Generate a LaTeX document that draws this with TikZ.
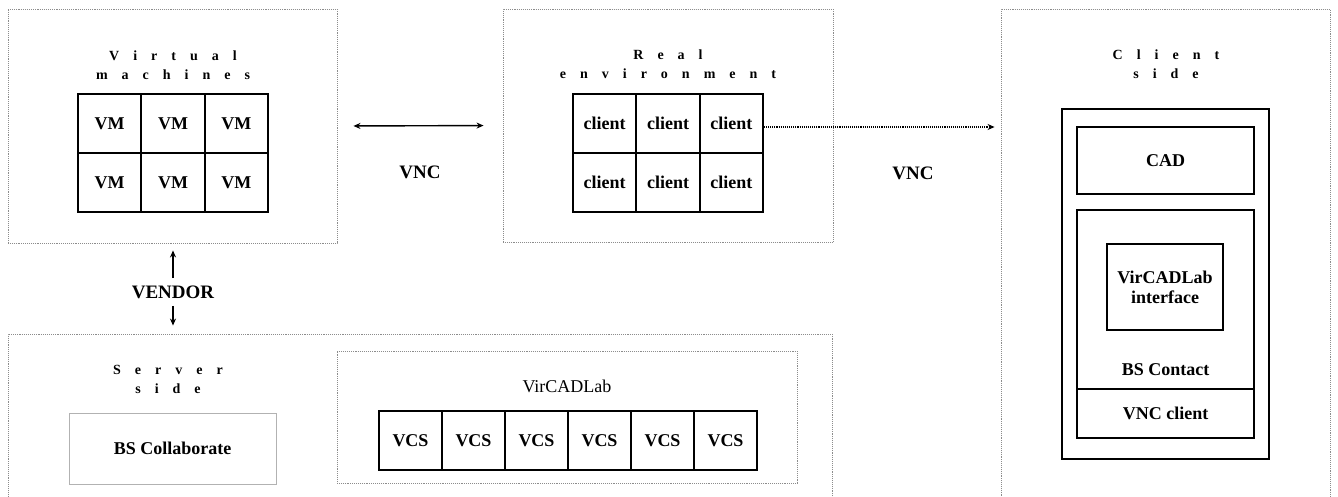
\documentclass[tikz,border=0pt]{standalone}
\usepackage{fontspec}
\setmainfont{Liberation Serif}
\newfontfamily\spacedfont[WordSpace=4]{Liberation Serif}
\usetikzlibrary{arrows.meta, positioning}
\tikzstyle{dotbox} = [rectangle, draw=gray!90, densely dotted, line width=0.9pt]
\tikzstyle{cell} = [rectangle, draw=black, line width=1.8pt, minimum width=63.3pt, minimum height=59pt, font=\fontsize{18}{21}\selectfont\bfseries]
\tikzstyle{solidbox} = [rectangle, draw=black, line width=1.8pt, font=\fontsize{18}{21}\selectfont\bfseries, align=center]
\tikzstyle{title} = [font=\spacedfont\fontsize{14}{19}\selectfont\bfseries, align=center]
\tikzstyle{lbl} = [font=\fontsize{19}{22}\selectfont\bfseries]
\tikzstyle{arrow} = [->,>={Stealth[length=7pt,width=6pt]}]

\begin{document}
\begin{tikzpicture}[x=1pt, y=1pt, node distance=63.3pt]
\useasboundingbox (0,0) rectangle (1338,-496);

% dotted frames
\node (vmbox) [dotbox, minimum width=329pt, minimum height=234pt] at (172.5,-126) {};
\node (realbox) [dotbox, minimum width=330pt, minimum height=233pt] at (668,-125.5) {};
\node (clientbox) [dotbox, minimum width=329pt, minimum height=501pt] at (1165.5,-259.5) {};
\node (serverbox) [dotbox, minimum width=824pt, minimum height=176pt] at (420,-422) {};
\node (vclbox) [dotbox, minimum width=460pt, minimum height=132pt] at (567,-417) {};

% titles
\node (vmtitle) [title] at (173,-65) {V i r t u a l\\m a c h i n e s};
\node (realtitle) [title] at (668,-64) {R e a l\\e n v i r o n m e n t};
\node (clienttitle) [title] at (1166,-64) {C l i e n t\\s i d e};
\node (servertitle) [title] at (168,-379) {S e r v e r\\s i d e};

% virtual machines
\node (vm1) [cell] at (109.7,-123.5) {VM};
\node (vm2) [cell, right of=vm1] {VM};
\node (vm3) [cell, right of=vm2] {VM};
\node (vm4) [cell, below of=vm1, yshift=4.3pt] {VM};
\node (vm5) [cell, right of=vm4] {VM};
\node (vm6) [cell, right of=vm5] {VM};

% real environment
\node (cl1) [cell] at (604.7,-123.5) {client};
\node (cl2) [cell, right of=cl1] {client};
\node (cl3) [cell, right of=cl2] {client};
\node (cl4) [cell, below of=cl1, yshift=4.3pt] {client};
\node (cl5) [cell, right of=cl4] {client};
\node (cl6) [cell, right of=cl5] {client};

% server side
\node (bscollab) [rectangle, draw=gray!60, line width=0.9pt, minimum width=207pt, minimum height=71pt, font=\fontsize{18}{21}\selectfont\bfseries] at (172.5,-448.5) {BS Collaborate};
\node (vcltitle) [font=\fontsize{18}{21}\selectfont] at (567,-386) {VirCADLab};
\node (vcs1) [cell] at (410.5,-440.5) {VCS};
\node (vcs2) [cell, right of=vcs1, xshift=-0.3pt] {VCS};
\node (vcs3) [cell, right of=vcs2, xshift=-0.3pt] {VCS};
\node (vcs4) [cell, right of=vcs3, xshift=-0.3pt] {VCS};
\node (vcs5) [cell, right of=vcs4, xshift=-0.3pt] {VCS};
\node (vcs6) [cell, right of=vcs5, xshift=-0.3pt] {VCS};

% client side
\node (clientstack) [solidbox, minimum width=207pt, minimum height=350pt] at (1165.5,-284) {};
\node (cad) [solidbox, minimum width=177pt, minimum height=67pt] at (1165.5,-160.5) {CAD};
\node (bscontact) [solidbox, minimum width=177pt, minimum height=179pt] at (1165.5,-299.5) {};
\node (vncclient) [solidbox, minimum width=177pt, minimum height=49pt] at (1165.5,-413.5) {VNC client};
\node (vclif) [solidbox, minimum width=116pt, minimum height=86pt, font=\fontsize{18}{20}\selectfont\bfseries] at (1165,-287) {VirCADLab\\interface};
\node (bslabel) [font=\fontsize{18}{21}\selectfont\bfseries, above=11pt of bscontact.south] {BS Contact};

% connectors
\node (vnc1) [lbl] at (420,-172) {VNC};
\node (vnc2) [lbl] at (913,-173) {VNC};
\node (vendor) [lbl] at (173,-292) {VENDOR};

\draw [arrow, <->, line width=1.4pt, shorten <=16pt, shorten >=19pt] (vmbox.east) -- (realbox.west);
\draw [arrow, densely dotted, line width=1.1pt, shorten >=6pt] ([yshift=-3.5pt]cl3.east) -- ([yshift=-3.5pt]cl3.east -| clientbox.west);
\draw [arrow, line width=1.1pt, shorten <=4pt, shorten >=7pt] (vendor.north) -- (vendor.north |- vmbox.south);
\draw [arrow, line width=1.1pt, shorten <=4pt, shorten >=8pt] (vendor.south) -- (vendor.south |- serverbox.north);
\end{tikzpicture}
\end{document}
